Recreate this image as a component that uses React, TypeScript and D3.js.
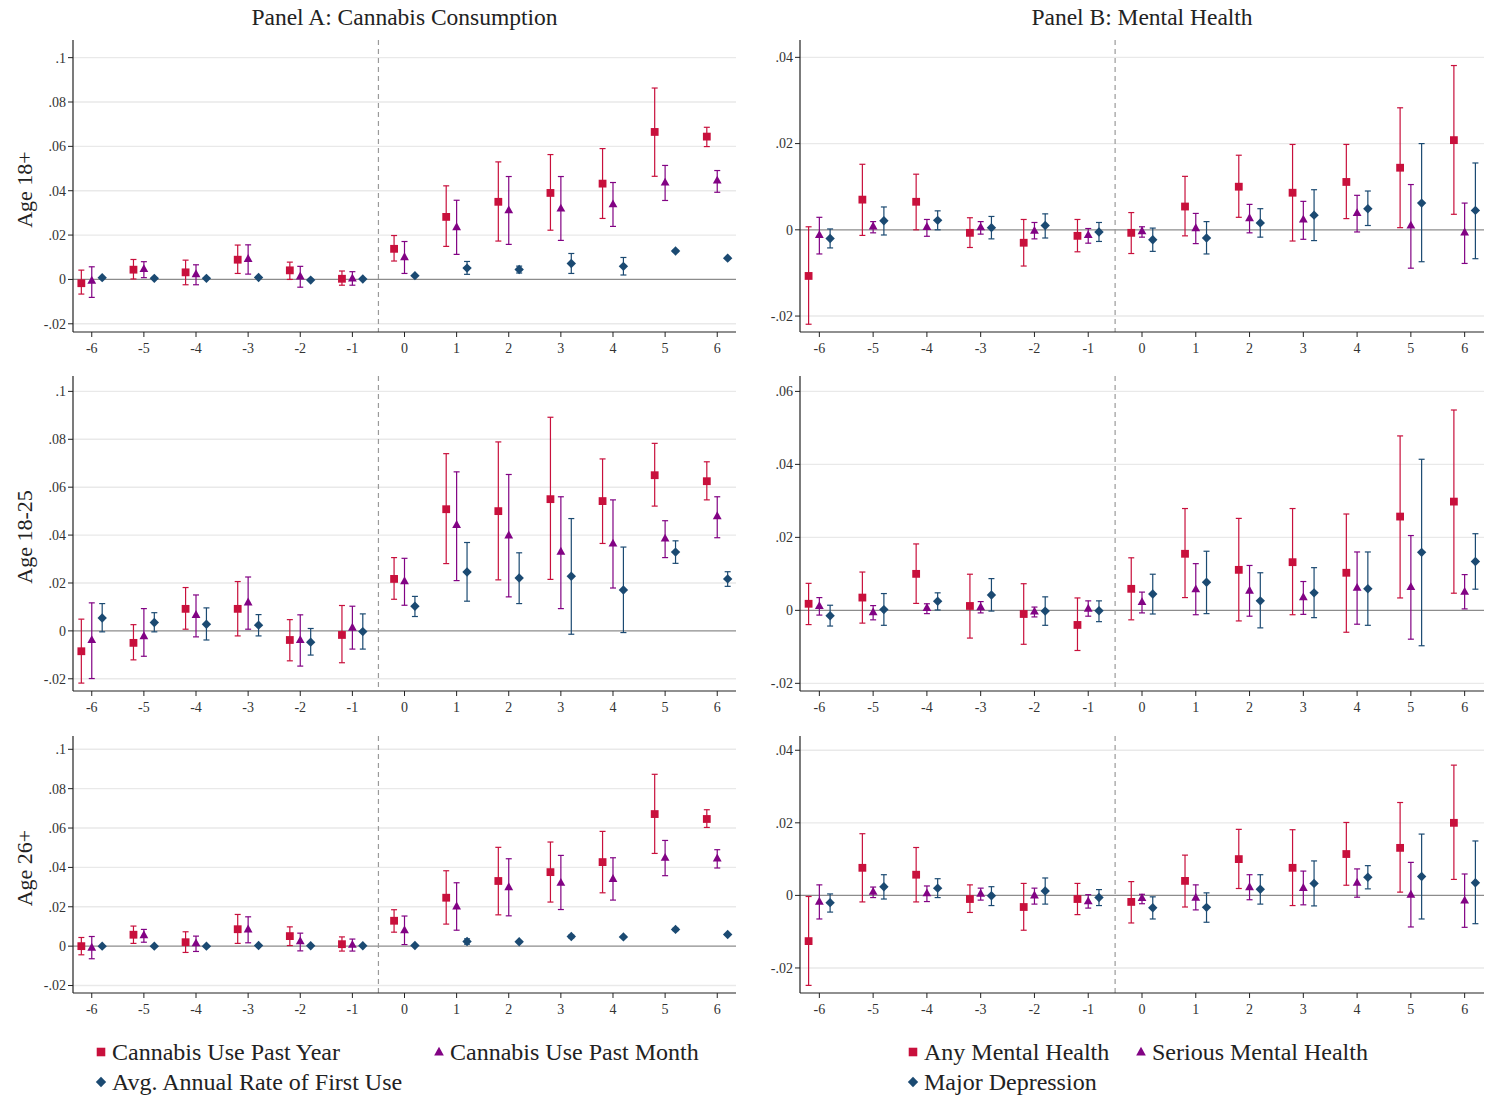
import React from "react";
import * as d3 from "d3";

// [estimate, ciLow, ciHigh] for event times -6..6
const eventTimes = [-6, -5, -4, -3, -2, -1, 0, 1, 2, 3, 4, 5, 6];

// Panel A: Cannabis consumption
const a18_pastYear = [[-0.0017,-0.0066,0.0042],[0.0044,0.0002,0.009],[0.0032,-0.0024,0.0087],[0.0089,0.0027,0.0155],[0.0041,0.0,0.0078],[0.0003,-0.0026,0.0038],[0.0138,0.0083,0.0198],[0.0282,0.0149,0.0422],[0.035,0.0173,0.053],[0.039,0.0222,0.0563],[0.0432,0.0275,0.059],[0.0665,0.0465,0.0863],[0.0644,0.0599,0.0686]];
const a18_pastMonth = [[-0.0005,-0.0081,0.0057],[0.0047,0.0008,0.008],[0.0024,-0.0024,0.0066],[0.0093,0.0024,0.0156],[0.0014,-0.0035,0.0059],[0.0005,-0.0026,0.0035],[0.0101,0.0027,0.0171],[0.0236,0.0113,0.0357],[0.0312,0.0158,0.0464],[0.032,0.0176,0.0464],[0.0339,0.0239,0.0437],[0.0437,0.0356,0.0514],[0.0446,0.0393,0.0491]];
const a18_firstUse = [[0.0008,0.0006,0.001],[0.0005,0.0003,0.0007],[0.0005,0.0003,0.0007],[0.0009,0.0007,0.0011],[-0.0003,-0.0005,-0.0001],[0.0002,0.0,0.0004],[0.0017,0.0014,0.002],[0.0051,0.0023,0.0081],[0.0045,0.0029,0.006],[0.0072,0.0027,0.0117],[0.0059,0.002,0.0099],[0.0128,0.0124,0.0132],[0.0096,0.0093,0.0099]];

const a1825_pastYear = [[-0.0085,-0.0218,0.0049],[-0.005,-0.0121,0.0026],[0.0092,0.0007,0.0181],[0.0092,-0.0021,0.0206],[-0.0038,-0.0125,0.0047],[-0.0017,-0.0133,0.0106],[0.0217,0.0132,0.0306],[0.0508,0.0281,0.074],[0.05,0.0213,0.0789],[0.055,0.0215,0.0892],[0.0542,0.0365,0.0718],[0.065,0.0521,0.0783],[0.0625,0.0547,0.0706]];
const a1825_pastMonth = [[-0.0038,-0.0199,0.0117],[-0.0022,-0.0106,0.0093],[0.0067,-0.0025,0.015],[0.0119,0.0007,0.0225],[-0.0038,-0.0147,0.0067],[0.0014,-0.0076,0.0103],[0.0208,0.0107,0.0303],[0.0443,0.021,0.0664],[0.0399,0.0142,0.0653],[0.0331,0.0093,0.056],[0.0365,0.0179,0.0547],[0.0386,0.0306,0.046],[0.0479,0.0389,0.056]];
const a1825_firstUse = [[0.0054,-0.0004,0.0114],[0.0035,-0.0004,0.0076],[0.0028,-0.0038,0.0096],[0.0024,-0.0021,0.0068],[-0.0047,-0.0101,0.001],[-0.0003,-0.0076,0.0071],[0.0103,0.006,0.0144],[0.0246,0.0124,0.0369],[0.0221,0.0114,0.0326],[0.0228,-0.0014,0.0469],[0.0171,-0.0007,0.035],[0.0329,0.0282,0.0376],[0.0217,0.0186,0.0247]];

const a26_pastYear = [[0.0,-0.0044,0.0044],[0.0058,0.0014,0.0102],[0.002,-0.0032,0.0073],[0.0086,0.0014,0.0161],[0.0051,0.0003,0.0098],[0.001,-0.0025,0.0047],[0.0129,0.0071,0.0185],[0.0246,0.0112,0.0383],[0.0331,0.0159,0.0502],[0.0376,0.0224,0.0529],[0.0427,0.0271,0.0583],[0.0671,0.0471,0.0873],[0.0646,0.0603,0.0693]];
const a26_pastMonth = [[-0.0007,-0.0064,0.0049],[0.0056,0.002,0.0085],[0.0015,-0.0027,0.0051],[0.0085,0.0017,0.0149],[0.0025,-0.0024,0.0066],[0.0007,-0.0025,0.0036],[0.0081,0.0008,0.0153],[0.0202,0.0081,0.0322],[0.03,0.0154,0.0444],[0.0322,0.0186,0.0461],[0.0342,0.0234,0.0449],[0.0449,0.0358,0.0537],[0.0446,0.0397,0.049]];
const a26_firstUse = [[0.0,-0.0002,0.0002],[0.0,-0.0002,0.0002],[0.0,-0.0002,0.0002],[0.0003,0.0001,0.0005],[0.0002,0.0,0.0004],[0.0002,0.0,0.0004],[0.0003,0.0001,0.0005],[0.0024,0.001,0.0037],[0.0022,0.0018,0.0026],[0.0049,0.0042,0.0056],[0.0047,0.0044,0.005],[0.0085,0.0079,0.0091],[0.0059,0.0055,0.0063]];

// Panel B: Mental health
const b18_any = [[-0.0107,-0.0219,0.0007],[0.007,-0.0013,0.0152],[0.0065,0.0,0.0129],[-0.0007,-0.0041,0.0028],[-0.003,-0.0084,0.0024],[-0.0014,-0.0051,0.0024],[-0.0007,-0.0055,0.004],[0.0054,-0.0014,0.0124],[0.01,0.0029,0.0173],[0.0086,-0.0026,0.0198],[0.0111,0.0026,0.0198],[0.0144,0.0005,0.0283],[0.0208,0.0036,0.0381]];
const b18_serious = [[-0.0012,-0.0056,0.0029],[0.0008,-0.0007,0.0019],[0.0007,-0.0015,0.0024],[0.0006,-0.001,0.0019],[-0.0002,-0.0021,0.0017],[-0.0012,-0.0031,0.0003],[-0.0003,-0.0017,0.0007],[0.0004,-0.0032,0.0038],[0.0027,-0.0007,0.0059],[0.0024,-0.0022,0.0066],[0.0039,-0.0005,0.008],[0.001,-0.0089,0.0105],[-0.0006,-0.0078,0.0062]];
const b18_depression = [[-0.002,-0.0042,0.0002],[0.0021,-0.0012,0.0053],[0.0022,0.0,0.0044],[0.0005,-0.0021,0.0031],[0.001,-0.0019,0.0037],[-0.0005,-0.0027,0.0017],[-0.0023,-0.005,0.0004],[-0.0019,-0.0056,0.0019],[0.0016,-0.0017,0.0049],[0.0034,-0.0025,0.0093],[0.0049,0.001,0.009],[0.0062,-0.0074,0.02],[0.0045,-0.0067,0.0155]];

const b1825_any = [[0.0018,-0.0039,0.0074],[0.0035,-0.0035,0.0105],[0.01,0.0019,0.0182],[0.0012,-0.0076,0.0099],[-0.001,-0.0093,0.0073],[-0.004,-0.011,0.0034],[0.0059,-0.0026,0.0144],[0.0155,0.0035,0.0279],[0.0111,-0.0029,0.0252],[0.0132,-0.0012,0.0279],[0.0103,-0.006,0.0264],[0.0257,0.0034,0.0478],[0.0298,0.0047,0.0549]];
const b1825_serious = [[0.0012,-0.0013,0.0035],[-0.0005,-0.0026,0.0013],[0.0007,-0.0009,0.0018],[0.0009,-0.0007,0.0024],[-0.0003,-0.0018,0.0009],[0.0005,-0.0016,0.0026],[0.0023,-0.0007,0.005],[0.0058,-0.0012,0.0128],[0.0054,-0.0016,0.0123],[0.0036,-0.0011,0.0079],[0.0062,-0.0038,0.016],[0.0064,-0.0079,0.0205],[0.0051,0.0004,0.0098]];
const b1825_depression = [[-0.0015,-0.0043,0.0014],[0.0002,-0.0041,0.0046],[0.0025,0.0001,0.0048],[0.0042,-0.0002,0.0087],[-0.0002,-0.0041,0.0037],[-0.0001,-0.0031,0.0026],[0.0045,-0.001,0.0099],[0.0077,-0.0009,0.0162],[0.0026,-0.0048,0.0103],[0.0048,-0.002,0.0117],[0.0059,-0.0041,0.016],[0.0159,-0.0097,0.0414],[0.0134,0.0058,0.021]];

const b26_any = [[-0.0126,-0.0248,-0.0003],[0.0076,-0.0018,0.017],[0.0057,-0.0018,0.0132],[-0.001,-0.0047,0.0029],[-0.0032,-0.0096,0.0033],[-0.001,-0.0053,0.0033],[-0.0018,-0.0076,0.0038],[0.004,-0.0032,0.0111],[0.01,0.0019,0.0182],[0.0076,-0.0028,0.0181],[0.0114,0.0028,0.0201],[0.0131,0.0009,0.0256],[0.02,0.0044,0.0359]];
const b26_serious = [[-0.0017,-0.0065,0.0029],[0.001,-0.0006,0.0023],[0.0006,-0.0017,0.0026],[0.0005,-0.0013,0.002],[0.0,-0.0024,0.002],[-0.0016,-0.0035,0.0002],[-0.0007,-0.0023,0.0003],[-0.0006,-0.004,0.0029],[0.0023,-0.0012,0.0057],[0.0021,-0.0026,0.0067],[0.0035,-0.0005,0.0073],[0.0002,-0.0087,0.0091],[-0.0014,-0.0088,0.0059]];
const b26_depression = [[-0.002,-0.0046,0.0004],[0.0024,-0.001,0.0057],[0.002,-0.0006,0.0046],[-0.0001,-0.0028,0.0024],[0.0012,-0.0024,0.0048],[-0.0006,-0.0028,0.0016],[-0.0034,-0.0065,-0.0004],[-0.0033,-0.0074,0.0007],[0.0017,-0.0024,0.0057],[0.0033,-0.0029,0.0095],[0.005,0.0018,0.0082],[0.0052,-0.0065,0.0169],[0.0035,-0.0078,0.015]];

const panelTitles = ["Panel A: Cannabis Consumption", "Panel B: Mental Health"];
const rowLabels = ["Age 18+", "Age 18-25", "Age 26+"];
const legendA = ["Cannabis Use Past Year", "Cannabis Use Past Month", "Avg. Annual Rate of First Use"];
const legendB = ["Any Mental Health", "Serious Mental Health", "Major Depression"];
const ticksA = [-0.02, 0, 0.02, 0.04, 0.06, 0.08, 0.1];
const ticksB1 = [-0.02, 0, 0.02, 0.04];
const ticksB2 = [-0.02, 0, 0.02, 0.04, 0.06];
const ticksB3 = [-0.02, 0, 0.02, 0.04];

const COLORS = ["#c8103c", "#820384", "#1b4a72"];
const FONT = "'Liberation Serif', 'DejaVu Serif', serif";

const cols = [
  { left: 73, right: 736 },
  { left: 800, right: 1484 },
];
const rows = [
  { top: 47, bottom: 332 },
  { top: 383, bottom: 691 },
  { top: 743, bottom: 993 },
];

const panels = [
  { col: 0, row: 0, dom: [-0.0237, 0.1048], ticks: ticksA, series: [a18_pastYear, a18_pastMonth, a18_firstUse] },
  { col: 1, row: 0, dom: [-0.0237, 0.0424], ticks: ticksB1, series: [b18_any, b18_serious, b18_depression] },
  { col: 0, row: 1, dom: [-0.0251, 0.1035], ticks: ticksA, series: [a1825_pastYear, a1825_pastMonth, a1825_firstUse] },
  { col: 1, row: 1, dom: [-0.0221, 0.0623], ticks: ticksB2, series: [b1825_any, b1825_serious, b1825_depression] },
  { col: 0, row: 2, dom: [-0.0238, 0.1032], ticks: ticksA, series: [a26_pastYear, a26_pastMonth, a26_firstUse] },
  { col: 1, row: 2, dom: [-0.0269, 0.042], ticks: ticksB3, series: [b26_any, b26_serious, b26_depression] },
];

const offsets = [-0.2, 0, 0.2];

function fmt(v: number): string {
  if (Math.abs(v) < 1e-9) return "0";
  const s = String(+v.toFixed(3));
  return s.replace(/^0\./, ".").replace(/^-0\./, "-.");
}

function markerPath(kind: number, scale = 1): string {
  if (kind === 0) {
    const h = 3.9 * scale;
    return `M${-h},${-h}H${h}V${h}H${-h}Z`;
  }
  if (kind === 1) {
    return `M0,${-4.8 * scale}L${4.4 * scale},${3.1 * scale}L${-4.4 * scale},${3.1 * scale}Z`;
  }
  const r = 4.7 * scale;
  return `M0,${-r}L${r},0L0,${r}L${-r},0Z`;
}

function Panel({ p }: { p: typeof panels[number] }) {
  const c = cols[p.col];
  const r = rows[p.row];
  const x = d3.scaleLinear().domain([-6.36, 6.36]).range([c.left, c.right]);
  const y = d3.scaleLinear().domain(p.dom).range([r.bottom, r.top]);
  return (
    <g>
      {p.ticks.filter((t) => t !== 0).map((t) => (
        <line key={"g" + t} x1={c.left} x2={c.right} y1={y(t)} y2={y(t)} stroke="#e9e9e9" strokeWidth={1.4} />
      ))}
      <line x1={c.left} x2={c.right} y1={y(0)} y2={y(0)} stroke="#8c8c8c" strokeWidth={1.3} />
      <line x1={x(-0.5)} x2={x(-0.5)} y1={r.top - 7} y2={r.bottom} stroke="#9a9a9a" strokeWidth={1.2} strokeDasharray="5,4" />
      {p.series.map((ser, si) => (
        <g key={"s" + si}>
          {ser.map((d, i) => {
            const cx = x(eventTimes[i] + offsets[si]);
            return (
              <g key={i} stroke={COLORS[si]} strokeWidth={1.2}>
                <line x1={cx} x2={cx} y1={y(d[1])} y2={y(d[2])} />
                <line x1={cx - 3} x2={cx + 3} y1={y(d[1])} y2={y(d[1])} />
                <line x1={cx - 3} x2={cx + 3} y1={y(d[2])} y2={y(d[2])} />
              </g>
            );
          })}
          {ser.map((d, i) => (
            <path key={"m" + i} d={markerPath(si)} transform={`translate(${x(eventTimes[i] + offsets[si])},${y(d[0])})`} fill={COLORS[si]} />
          ))}
        </g>
      ))}
      <line x1={c.left} x2={c.left} y1={r.top - 7} y2={r.bottom} stroke="#222" strokeWidth={1.2} />
      <line x1={c.left} x2={c.right} y1={r.bottom} y2={r.bottom} stroke="#222" strokeWidth={1.2} />
      {p.ticks.map((t) => (
        <g key={"yt" + t}>
          <line x1={c.left - 5} x2={c.left} y1={y(t)} y2={y(t)} stroke="#222" strokeWidth={1} />
          <text x={c.left - 7} y={y(t)} dy="0.35em" textAnchor="end" fontSize={14} fill="#333" fontFamily={FONT}>
            {fmt(t)}
          </text>
        </g>
      ))}
      {eventTimes.map((t) => (
        <g key={"xt" + t}>
          <line x1={x(t)} x2={x(t)} y1={r.bottom} y2={r.bottom + 5} stroke="#222" strokeWidth={1} />
          <text x={x(t)} y={r.bottom + 21} textAnchor="middle" fontSize={14} fill="#333" fontFamily={FONT}>
            {t}
          </text>
        </g>
      ))}
    </g>
  );
}

function LegendItem({ x, y, kind, label }: { x: number; y: number; kind: number; label: string }) {
  return (
    <g>
      <path d={markerPath(kind, 1.1)} transform={`translate(${x},${y})`} fill={COLORS[kind]} />
      <text x={x + 11} y={y} dy="0.35em" fontSize={24} fill="#222" fontFamily={FONT}>
        {label}
      </text>
    </g>
  );
}

export default function App() {
  return (
    <svg width={1485} height={1095} style={{ position: "absolute", left: 0, top: 0, background: "#fff" }}>
      <rect x={0} y={0} width={1485} height={1095} fill="#fff" />
      <text x={(cols[0].left + cols[0].right) / 2} y={25} textAnchor="middle" fontSize={23.5} fill="#222" fontFamily={FONT}>
        {panelTitles[0]}
      </text>
      <text x={(cols[1].left + cols[1].right) / 2} y={25} textAnchor="middle" fontSize={23.5} fill="#222" fontFamily={FONT}>
        {panelTitles[1]}
      </text>
      {rows.map((r, i) => (
        <text key={i} transform={`translate(32,${(r.top + r.bottom) / 2}) rotate(-90)`} textAnchor="middle" fontSize={22} fill="#222" fontFamily={FONT}>
          {rowLabels[i]}
        </text>
      ))}
      {panels.map((p, i) => (
        <Panel key={i} p={p} />
      ))}
      <LegendItem x={101} y={1052} kind={0} label={legendA[0]} />
      <LegendItem x={439} y={1052} kind={1} label={legendA[1]} />
      <LegendItem x={101} y={1082} kind={2} label={legendA[2]} />
      <LegendItem x={913} y={1052} kind={0} label={legendB[0]} />
      <LegendItem x={1141} y={1052} kind={1} label={legendB[1]} />
      <LegendItem x={913} y={1082} kind={2} label={legendB[2]} />
    </svg>
  );
}
